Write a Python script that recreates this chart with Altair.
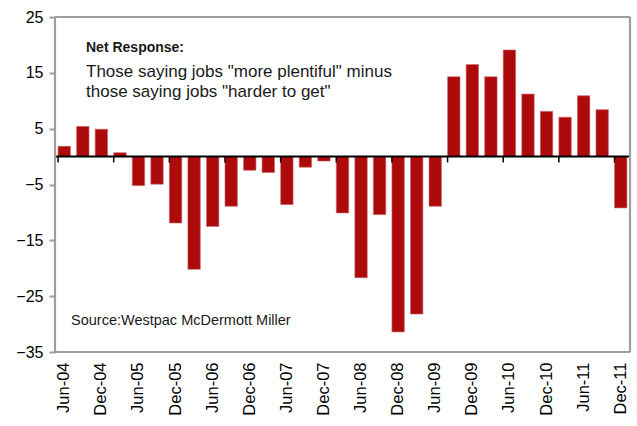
import altair as alt
import pandas as pd

quarters = ["Jun-04","Sep-04","Dec-04","Mar-05","Jun-05","Sep-05","Dec-05","Mar-06","Jun-06","Sep-06",
            "Dec-06","Mar-07","Jun-07","Sep-07","Dec-07","Mar-08","Jun-08","Sep-08","Dec-08","Mar-09",
            "Jun-09","Sep-09","Dec-09","Mar-10","Jun-10","Sep-10","Dec-10","Mar-11","Jun-11","Sep-11","Dec-11"]
net_response = [1.85, 5.4, 4.9, 0.7, -5.2, -4.95, -11.9, -20.2, -12.5, -8.9,
                -2.45, -2.85, -8.6, -1.9, -0.8, -10.1, -21.7, -10.4, -31.4, -28.2,
                -8.9, 14.3, 16.5, 14.3, 19.1, 11.2, 8.1, 7.05, 10.9, 8.4, -9.2]
y_ticks = [25, 15, 5, -5, -15, -25, -35]
y_min, y_max = -35, 25

df = pd.DataFrame({"q": quarters, "v": net_response, "i": list(range(len(quarters)))})
one = pd.DataFrame({"k": [0]})

FONT = "Liberation Sans"
RED = "#ad0b0b"
TXT = "#1a1a1a"
GRAY = "#9e9e9e"
W, H = 575, 335

xscale = alt.Scale(domain=quarters, paddingInner=0.33, paddingOuter=0.165)
yscale = alt.Scale(domain=[y_min, y_max], nice=False, zero=False)

bars = alt.Chart(df).mark_bar(color=RED, stroke="#c96a6a", strokeWidth=0.6).encode(
    x=alt.X("q:N", scale=xscale, sort=quarters, title=None,
            axis=alt.Axis(labelAngle=270, labelFontSize=16.5, labelPadding=10, ticks=False, domain=False,
                          labelExpr="(indexof(datum.label,'Jun')==0 || indexof(datum.label,'Dec')==0) ? datum.label : ''")),
    y=alt.Y("v:Q", scale=yscale, title=None,
            axis=alt.Axis(values=y_ticks, labelFontSize=16, grid=False, domain=False, tickColor=GRAY,
                          tickSize=6, tickWidth=2, labelPadding=6)),
)

def frame_rule(**enc):
    return alt.Chart(one).mark_rule(color=GRAY, strokeWidth=2.2).encode(**enc)

frame = [
    frame_rule(x=alt.value(0), x2=alt.value(W), y=alt.value(0)),
    frame_rule(x=alt.value(0), x2=alt.value(W), y=alt.value(H)),
    frame_rule(x=alt.value(0), y=alt.value(0), y2=alt.value(H)),
    frame_rule(x=alt.value(W), y=alt.value(0), y2=alt.value(H)),
]

zero = alt.Chart(one).mark_rule(color="black", strokeWidth=2).encode(
    y=alt.datum(0), x=alt.value(0), x2=alt.value(W)
)

ticks = alt.Chart(df).transform_filter("datum.i % 3 == 0").mark_rule(color="black", strokeWidth=1.5).encode(
    x=alt.X("q:N", scale=xscale, sort=quarters, bandPosition=0),
    y=alt.datum(0), y2=alt.datum(-1.05)
)

t1 = alt.Chart(one).mark_text(text="Net Response:", font=FONT, fontSize=14, fontWeight="bold", align="left",
                              baseline="middle", color=TXT).encode(x=alt.value(31), y=alt.value(31))
t2 = alt.Chart(one).mark_text(text='Those saying jobs "more plentiful" minus', font=FONT, fontSize=17,
                              align="left", baseline="middle", color=TXT).encode(x=alt.value(31), y=alt.value(55))
t3 = alt.Chart(one).mark_text(text='those saying jobs "harder to get"', font=FONT, fontSize=17,
                              align="left", baseline="middle", color=TXT).encode(x=alt.value(31), y=alt.value(75))
t4 = alt.Chart(one).mark_text(text="Source:Westpac McDermott Miller", font=FONT, fontSize=14.5, align="left",
                              baseline="middle", color=TXT).encode(x=alt.value(16), y=alt.value(304))

chart = alt.layer(bars, zero, ticks, *frame, t1, t2, t3, t4).properties(
    width=W, height=H, autosize=alt.AutoSizeParams(type="none"),
    padding={"left": 55, "top": 17, "right": 7, "bottom": 74}
).configure_view(stroke=GRAY, strokeWidth=2).configure_axis(
    labelFont=FONT, labelColor="#111"
).configure(background="white")

chart.save("out.html", embed_options={"renderer": "svg", "actions": False})
